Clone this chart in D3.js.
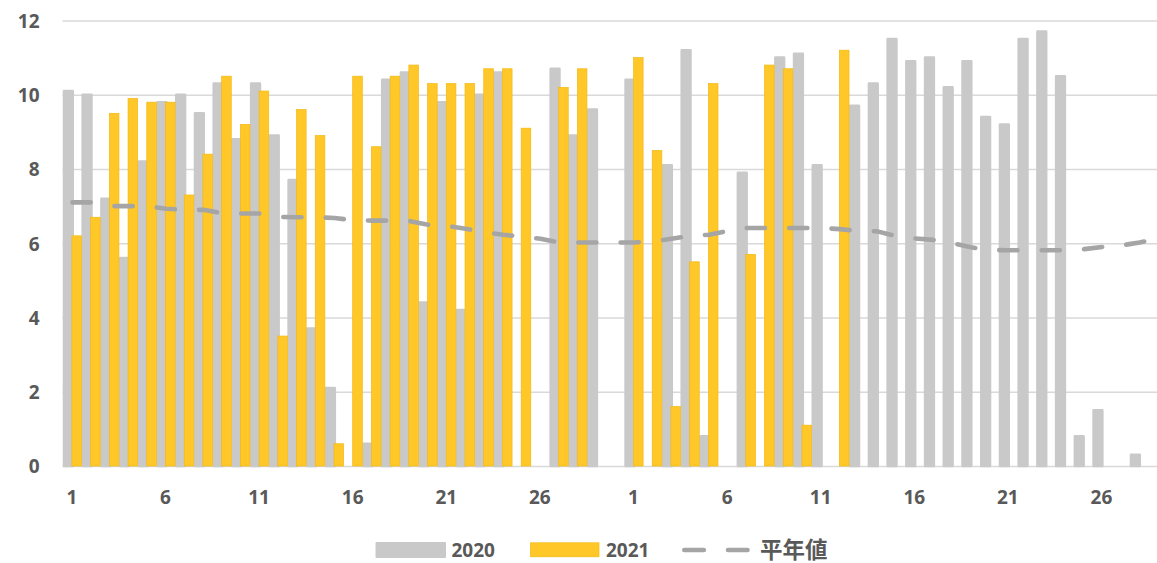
<!DOCTYPE html>
<html>
<head>
<meta charset="utf-8">
<script src="https://cdn.jsdelivr.net/npm/d3@7/dist/d3.min.js"></script>
<style>
  html, body { margin: 0; padding: 0; background: #fff; }
  svg { display: block; overflow: hidden; }
  .lbl { font-family: "Open Sans", "Liberation Sans", sans-serif; font-weight: 700; font-size: 19px; fill: #595959; }
</style>
</head>
<body>
<svg id="chart" width="1157" height="563"></svg>
<script>
// ---- data ----
const seriesNames = ["2020", "2021", "平年値"];
const month1Days = d3.range(1, 31);   // 1..30
const month2Days = d3.range(1, 30);   // 1..29
const dayLabels = month1Days.concat(month2Days).map(String);

const values2020 = [
  10.1, 10.0, 7.2, 5.6, 8.2, 9.8, 10.0, 9.5, 10.3, 8.8,
  10.3, 8.9, 7.7, 3.7, 2.1, 0, 0.6, 10.4, 10.6, 4.4,
  9.8, 4.2, 10.0, 10.6, 0, 0, 10.7, 8.9, 9.6, 0,
  10.4, 0, 8.1, 11.2, 0.8, 0, 7.9, 0, 11.0, 11.1,
  8.1, 0, 9.7, 10.3, 11.5, 10.9, 11.0, 10.2, 10.9, 9.4,
  9.2, 11.5, 11.7, 10.5, 0.8, 1.5, 0, 0.3, 0
];
const values2021 = [
  6.2, 6.7, 9.5, 9.9, 9.8, 9.8, 7.3, 8.4, 10.5, 9.2,
  10.1, 3.5, 9.6, 8.9, 0.6, 10.5, 8.6, 10.5, 10.8, 10.3,
  10.3, 10.3, 10.7, 10.7, 9.1, 0, 10.2, 10.7, 0, 0,
  11.0, 8.5, 1.6, 5.5, 10.3, 0, 5.7, 10.8, 10.7, 1.1,
  0, 11.2, null, null, null, null, null, null, null, null,
  null, null, null, null, null, null, null, null, null
];
const normals = [
  7.10, 7.10, 7.00, 7.00, 7.00, 6.93, 6.90, 6.90, 6.81, 6.80,
  6.80, 6.71, 6.70, 6.70, 6.68, 6.62, 6.61, 6.61, 6.60, 6.50,
  6.47, 6.39, 6.30, 6.23, 6.18, 6.12, 6.02, 6.02, 6.02, 6.02,
  6.02, 6.05, 6.12, 6.20, 6.23, 6.33, 6.41, 6.41, 6.41, 6.41,
  6.41, 6.38, 6.33, 6.32, 6.19, 6.13, 6.09, 6.00, 5.89, 5.82,
  5.81, 5.81, 5.81, 5.81, 5.84, 5.90, 5.94, 6.02, 6.13
];
const yTicks = [0, 2, 4, 6, 8, 10, 12];

// ---- layout ----
const svg = d3.select("#chart");
const left = 63.1, step = 18.72;
const idx = d3.range(dayLabels.length);
const x = d3.scaleBand().domain(idx).range([left, left + step * idx.length]).paddingInner(0).paddingOuter(0);
const y = d3.scaleLinear().domain([0, 12]).range([466, 20.5]);
const bw = x.bandwidth();
const plotRight = left + step * idx.length;

// gridlines
const grid = svg.append("g").attr("transform", `translate(${left - 0.6},0)`)
  .call(d3.axisLeft(y).tickValues(yTicks.filter(v => v > 0)).tickSize(-(plotRight - left + 1)).tickFormat(""));
grid.select(".domain").remove();
grid.selectAll("line").attr("stroke", "#d9d9d9").attr("stroke-width", 1.3);

// y-axis labels
const yAxis = svg.append("g").attr("transform", `translate(${left - 0.6},0)`)
  .call(d3.axisLeft(y).tickValues(yTicks).tickSize(0).tickPadding(23).tickFormat(d3.format("d")));
yAxis.select(".domain").remove();
yAxis.selectAll("text").attr("class", "lbl").attr("dy", "0.36em");

// baseline
svg.append("line")
  .attr("x1", left - 0.6).attr("x2", plotRight)
  .attr("y1", y(0) + 0.5).attr("y2", y(0) + 0.5)
  .attr("stroke", "#d9d9d9").attr("stroke-width", 1.6);

// 2020 bars (gray, with same-colour outline giving rounded corners)
svg.append("g").selectAll("rect")
  .data(idx.filter(i => values2020[i] > 0))
  .join("rect")
  .attr("x", i => x(i) + 0.9)
  .attr("width", 8.7)
  .attr("y", i => y(values2020[i]))
  .attr("height", i => y(0) - y(values2020[i]))
  .attr("fill", "#c9c9c9")
  .attr("stroke", "#c9c9c9").attr("stroke-width", 2.6).attr("stroke-linejoin", "round");

// 2021 bars (yellow)
svg.append("g").selectAll("rect")
  .data(idx.filter(i => values2021[i] != null && values2021[i] > 0))
  .join("rect")
  .attr("x", i => x(i) + 8.8)
  .attr("width", 9.6)
  .attr("y", i => y(values2021[i]))
  .attr("height", i => y(0) - y(values2021[i]))
  .attr("fill", "#ffc828")
  .attr("stroke", "#f3b812").attr("stroke-width", 0.7);

// normals line (dashed)
const line = d3.line().x(i => x(i) + bw / 2).y(i => y(normals[i]));
svg.append("path")
  .datum(idx)
  .attr("d", line)
  .attr("fill", "none")
  .attr("stroke", "#a5a5a5")
  .attr("stroke-width", 4.6)
  .attr("stroke-linecap", "round")
  .attr("stroke-linejoin", "round")
  .attr("stroke-dasharray", "18.2,24.2");

// x-axis labels
const xAxis = svg.append("g").attr("transform", `translate(0,${y(0)})`)
  .call(d3.axisBottom(x).tickValues(idx.filter(i => i % 5 === 0)).tickSize(0).tickFormat(i => dayLabels[i]));
xAxis.select(".domain").remove();
xAxis.selectAll("text").attr("class", "lbl").attr("y", 38).attr("dy", null).attr("dx", -0.6);

// legend
const lg = svg.append("g");
lg.append("rect").attr("x", 376.5).attr("y", 543).attr("width", 68.5).attr("height", 14)
  .attr("fill", "#c9c9c9").attr("stroke", "#c9c9c9").attr("stroke-width", 2).attr("stroke-linejoin", "round");
lg.append("text").attr("class", "lbl").attr("x", 451.5).attr("y", 557).text(seriesNames[0]);
lg.append("rect").attr("x", 530.5).attr("y", 542.8).attr("width", 68.5).attr("height", 14)
  .attr("fill", "#ffc828").attr("stroke", "#f3b812").attr("stroke-width", 0.7);
lg.append("text").attr("class", "lbl").attr("x", 606).attr("y", 557).text(seriesNames[1]);
lg.append("line").attr("x1", 684.3).attr("x2", 748).attr("y1", 550).attr("y2", 550)
  .attr("stroke", "#a5a5a5").attr("stroke-width", 4.6).attr("stroke-linecap", "round")
  .attr("stroke-dasharray", "19.5,24.2");
lg.append("text").attr("x", 760).attr("y", 557.5)
  .attr("font-family", "'Noto Sans CJK JP', 'Noto Sans CJK SC', sans-serif")
  .attr("font-weight", 700).attr("font-size", 22.5).attr("fill", "#595959")
  .text(seriesNames[2]);
</script>
</body>
</html>
